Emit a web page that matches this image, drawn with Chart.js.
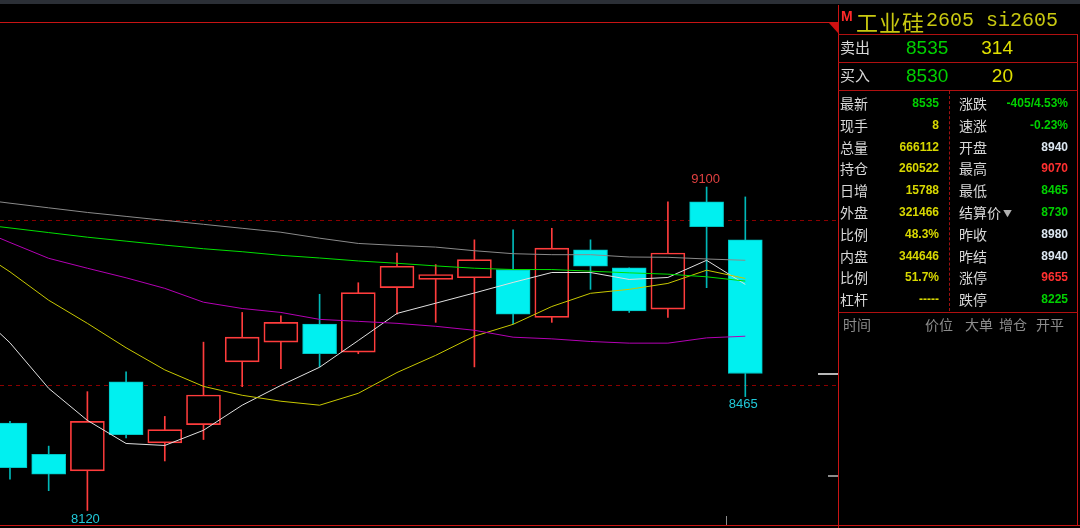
<!DOCTYPE html>
<html>
<head>
<meta charset="utf-8">
<script src="https://cdn.jsdelivr.net/npm/chart.js@4/dist/chart.umd.min.js"></script>
<style>
  body { margin: 0; background: #000; width: 1080px; height: 528px; overflow: hidden; position: relative; font-family: "Noto Sans CJK SC", sans-serif; }
  #topStrip { position: absolute; left: 0; top: 0; width: 1080px; height: 4px; background: #2b2f36; }
  #kline { position: absolute; left: 0; top: 0; }
  .rl { position: absolute; background: #c81414; }
  .txt { position: absolute; white-space: nowrap; line-height: 20px; height: 20px; }
  .lab { font-size: 14px; color: #d8d8d8; }
  .val { font-family: "Liberation Sans", Arial, sans-serif; font-weight: bold; font-size: 12px; text-align: right; }
  .hdr { font-size: 14px; color: #8c8c8c; }
</style>
</head>
<body>
<div id="topStrip"></div>
<canvas id="kline" width="838" height="528"></canvas>
<div id="panel"></div>

<script>
"use strict";

// ð candles (oldest -> newest)
const opens  = [8385, 8290, 8240, 8510, 8325, 8380, 8570, 8630, 8685, 8600, 8795, 8820, 8825, 8850, 8705, 8910, 8855, 8730, 9055, 8940];
const closes = [8250, 8230, 8390, 8350, 8365, 8470, 8645, 8690, 8595, 8780, 8860, 8835, 8880, 8715, 8915, 8860, 8725, 8900, 8980, 8535];
const highs  = [8390, 8315, 8480, 8540, 8405, 8630, 8720, 8710, 8775, 8810, 8900, 8865, 8940, 8970, 8975, 8940, 8855, 9055, 9100, 9070];
const lows   = [8215, 8180, 8120, 8340, 8270, 8335, 8495, 8550, 8555, 8595, 8715, 8690, 8555, 8685, 8690, 8790, 8720, 8705, 8795, 8465];

// ð moving averages, first value belongs to the bar just left of the screen
const ma5  = [8738, 8628, 8490, 8393, 8323, 8317, 8363, 8439, 8499, 8554, 8635, 8717, 8748, 8779, 8811, 8841, 8841, 8820, 8826, 8878, 8805];
const ma10 = [8920, 8843, 8757, 8687, 8613, 8546, 8496, 8469, 8451, 8439, 8475, 8538, 8590, 8648, 8684, 8738, 8778, 8790, 8808, 8848, 8823];
const ma20 = [8981, 8932, 8884, 8854, 8825, 8793, 8751, 8732, 8720, 8699, 8693, 8687, 8678, 8666, 8645, 8640, 8632, 8627, 8627, 8643, 8648];
const ma40 = [8990, 8976, 8962, 8948, 8936, 8924, 8913, 8904, 8893, 8885, 8876, 8869, 8861, 8854, 8850, 8850, 8845, 8840, 8836, 8828, 8815];
const ma60 = [9066, 9051, 9037, 9023, 9011, 8999, 8987, 8975, 8963, 8945, 8929, 8923, 8918, 8907, 8898, 8895, 8895, 8888, 8887, 8882, 8878];

const gridPrices = [8500, 9000];
const lastPrice = 8535;
const limitDown = 8225;

// right panel texts
const title = "工业硅";
const titleCode = "2605 si2605";
const askBid = [["卖出", "8535", "314"], ["买入", "8530", "20"]];
const leftLabels  = ["最新", "现手", "总量", "持仓", "日增", "外盘", "比例", "内盘", "比例", "杠杆"];
const leftValues  = ["8535", "8", "666112", "260522", "15788", "321466", "48.3%", "344646", "51.7%", "-----"];
const rightLabels = ["涨跌", "速涨", "开盘", "最高", "最低", "结算价", "昨收", "昨结", "涨停", "跌停"];
const rightValues = ["-405/4.53%", "-0.23%", "8940", "9070", "8465", "8730", "8980", "8940", "9655", "8225"];
const headers = [["时间", 843], ["价位", 925], ["大单", 965], ["增仓", 999], ["开平", 1036]];

const RED = '#ff3c3c';
const CYAN = '#00f0f0';
const GREEN = '#00d000';
const YELLOW = '#d8d800';
const WHITEB = '#dce6f0';

// ð datasets built from the arrays
const idx = opens.map((o, i) => i);
const maX = [-1].concat(idx);
const isUp = idx.map(i => closes[i] >= opens[i]);

const bodies = idx.map(i => ({x: i, y: [opens[i], closes[i]]}));
const upWicks = idx.map(i => ({x: i, y: [Math.max(opens[i], closes[i]), highs[i]]}));
const lowWicks = idx.map(i => ({x: i, y: [lows[i], Math.min(opens[i], closes[i])]}));
const wickColor = idx.map(i => isUp[i] ? RED : '#00b8b8');

function maLine(values, color) {
  return {
    type: 'line',
    data: values.map((v, k) => ({x: maX[k], y: v})),
    borderColor: color,
    borderWidth: 1,
    pointRadius: 0,
    tension: 0,
    order: 0
  };
}

const decor = {
  id: 'decor',
  beforeDatasetsDraw(chart) {
    const {ctx, chartArea, scales: {y}} = chart;
    ctx.save();
    ctx.strokeStyle = '#8b0000';
    ctx.lineWidth = 1;
    ctx.setLineDash([4, 4]);
    gridPrices.forEach(p => {
      const py = Math.round(y.getPixelForValue(p)) + 0.5;
      ctx.beginPath();
      ctx.moveTo(chartArea.left, py);
      ctx.lineTo(chartArea.right, py);
      ctx.stroke();
    });
    ctx.restore();
  },
  afterDatasetsDraw(chart) {
    const {ctx, chartArea, scales: {x, y}} = chart;
    ctx.save();
    ctx.font = '13px "Liberation Sans", Arial, sans-serif';
    ctx.textAlign = 'center';
    ctx.textBaseline = 'middle';

    // highest / lowest marks
    let hi = 0, lo = 0;
    highs.forEach((h, i) => { if (h > highs[hi]) hi = i; });
    lows.forEach((l, i) => { if (l < lows[lo]) lo = i; });
    ctx.fillStyle = '#e04040';
    ctx.fillText(String(highs[hi]), x.getPixelForValue(hi) - 1, y.getPixelForValue(highs[hi]) - 8);
    ctx.fillStyle = '#20c8d8';
    ctx.fillText(String(lows[lo]), x.getPixelForValue(lo) - 2, y.getPixelForValue(lows[lo]) + 9);
    const last = lows.length - 1;
    ctx.fillText(String(lows[last]), x.getPixelForValue(last) - 2, y.getPixelForValue(lows[last]) + 8);

    // right edge markers
    ctx.lineWidth = 2;
    ctx.strokeStyle = '#b8b8b8';
    let py = Math.round(y.getPixelForValue(lastPrice));
    ctx.beginPath(); ctx.moveTo(chartArea.right - 20, py); ctx.lineTo(chartArea.right, py); ctx.stroke();
    ctx.strokeStyle = '#8c8c8c';
    py = Math.round(y.getPixelForValue(limitDown));
    ctx.beginPath(); ctx.moveTo(chartArea.right - 10, py); ctx.lineTo(chartArea.right, py); ctx.stroke();
    ctx.lineWidth = 1;
    const tx = Math.round(x.getPixelForValue(18.5)) + 0.5;
    ctx.beginPath(); ctx.moveTo(tx, chartArea.bottom - 9); ctx.lineTo(tx, chartArea.bottom); ctx.stroke();
    ctx.restore();
  }
};

new Chart(document.getElementById('kline'), {
  type: 'bar',
  data: {
    datasets: [
      maLine(ma60, '#8a8a8a'),
      maLine(ma40, '#00e000'),
      maLine(ma20, '#b400b4'),
      maLine(ma10, '#c8c800'),
      maLine(ma5, '#e0e0e0'),
      {
        data: upWicks, backgroundColor: wickColor, barThickness: 1,
        grouped: false, borderWidth: 0, order: 3
      },
      {
        data: lowWicks, backgroundColor: wickColor, barThickness: 1,
        grouped: false, borderWidth: 0, order: 3
      },
      {
        data: bodies,
        backgroundColor: idx.map(i => isUp[i] ? 'rgba(0,0,0,0)' : CYAN),
        borderColor: idx.map(i => isUp[i] ? RED : '#00c4c4'),
        borderWidth: 1, borderSkipped: false, barThickness: 34,
        grouped: false, order: 2
      }
    ]
  },
  options: {
    responsive: false,
    animation: false,
    devicePixelRatio: 1,
    layout: { padding: { top: 22, bottom: 3, left: 0, right: 0 } },
    plugins: { legend: { display: false }, tooltip: { enabled: false } },
    scales: {
      x: { type: 'linear', min: -0.258, max: 21.395, display: false, offset: false },
      y: { min: 8076, max: 9600, display: false }
    }
  },
  plugins: [decor]
});

// ð right panel + frame lines
const panel = document.getElementById('panel');

function addLine(l, t, w, h, color) {
  const d = document.createElement('div');
  d.className = 'rl';
  d.style.left = l + 'px'; d.style.top = t + 'px';
  d.style.width = w + 'px'; d.style.height = h + 'px';
  if (color) d.style.background = color;
  panel.append(d);
}
function addText(cls, text, left, top, extra) {
  const d = document.createElement('div');
  d.className = 'txt ' + cls;
  d.innerHTML = text;
  d.style.left = left + 'px';
  d.style.top = top + 'px';
  Object.assign(d.style, extra || {});
  panel.append(d);
  return d;
}

addLine(0, 22, 838, 1);       // chart top
addLine(0, 525, 1080, 1);     // chart bottom
addLine(838, 5, 1, 523);      // chart right
addLine(1077, 34, 1, 492);    // panel right
addLine(838, 34, 240, 1, '#b01010');
addLine(838, 62, 240, 1, '#b01010');
addLine(838, 90, 240, 1, '#b01010');
addLine(838, 312, 240, 1, '#b01010');

// dotted divider inside the quote table
const dv = document.createElement('div');
dv.style.cssText = 'position:absolute;left:949px;top:91px;width:0;height:220px;border-left:1px dashed #a01010;';
panel.append(dv);

// small triangle at the top right corner of the chart
const tri = document.createElement('div');
tri.style.cssText = 'position:absolute;left:829px;top:23px;width:0;height:0;border-top:10px solid #d01010;border-left:9px solid transparent;';
panel.append(tri);

// title
addText('', 'M', 841, 6, {fontFamily: '"Liberation Sans", Arial', fontWeight: 'bold', fontSize: '14px', color: '#ff2a2a'});
addText('', title, 856, 9, {fontSize: '22px', color: '#c8c810', lineHeight: '24px', height: '24px', letterSpacing: '1px'});
addText('', titleCode, 926, 9, {fontFamily: '"Liberation Mono", monospace', fontSize: '20px', color: '#c8c810', lineHeight: '24px', height: '24px'});

// bid / ask
askBid.forEach((r, k) => {
  const cy = 48 + k * 28;
  addText('lab', r[0], 840, cy - 11, {fontSize: '15px'});
  addText('', r[1], 906, cy - 10, {fontFamily: '"Liberation Sans", Arial', fontSize: '19px', color: GREEN});
  addText('', r[2], 950, cy - 10, {fontFamily: '"Liberation Sans", Arial', fontSize: '19px', color: '#e0e000', width: '63px', textAlign: 'right'});
});

// quote rows
const leftColors = [GREEN, YELLOW, YELLOW, YELLOW, YELLOW, YELLOW, YELLOW, YELLOW, YELLOW, YELLOW];
const rightColors = [GREEN, GREEN, WHITEB, '#ff3030', GREEN, GREEN, WHITEB, WHITEB, '#ff3030', GREEN];
leftLabels.forEach((lab, k) => {
  const cy = 103 + k * 21.8;
  addText('lab', lab, 840, cy - 10);
  addText('val', leftValues[k], 860, cy - 10, {width: '79px', color: leftColors[k]});
  let rl = rightLabels[k];
  if (rl === '结算价') rl += '<span style="font-size:9px;color:#b0b0b0;margin-left:2px;vertical-align:1px">▼</span>';
  addText('lab', rl, 959, cy - 10);
  addText('val', rightValues[k], 990, cy - 10, {width: '78px', color: rightColors[k]});
});

headers.forEach(h => addText('hdr', h[0], h[1], 314));
</script>
</body>
</html>
